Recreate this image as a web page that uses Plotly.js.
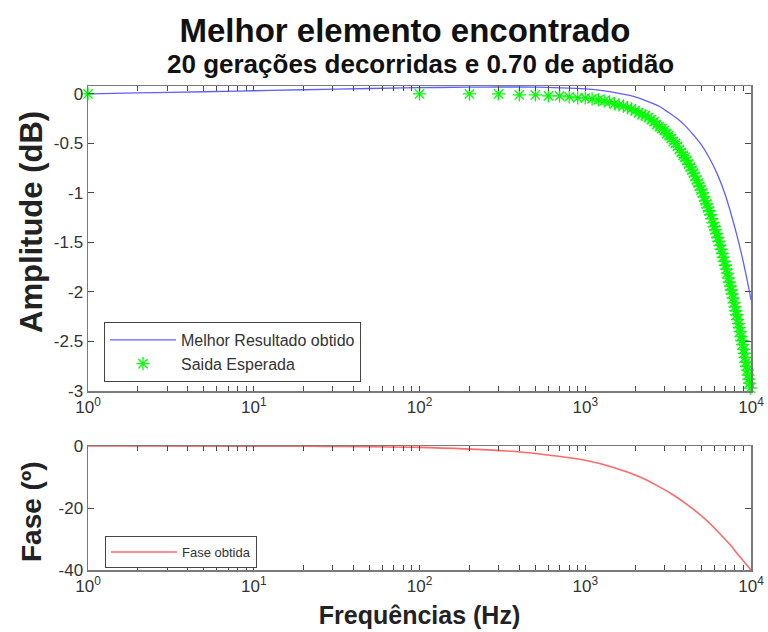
<!DOCTYPE html>
<html>
<head>
<meta charset="utf-8">
<script src="https://cdn.plot.ly/plotly-3.0.1.min.js"></script>
<style>html,body{margin:0;padding:0;background:#fff;}#chart{width:768px;height:632px;}</style>
</head>
<body>
<div id="chart"></div>
<script>
// Melhor Resultado obtido (blue line): frequency (Hz) and amplitude (dB)
const freqObtido = [1, 2, 5, 10, 20, 50, 100, 200, 300, 500, 700, 1000, 1300, 1600, 2000, 2500, 2825, 3200, 3600, 4000, 4500, 5000, 5600, 6300, 7000, 7600, 8200, 8800, 9400, 10000];
const ampObtido = [0.00, 0.01, 0.022, 0.032, 0.042, 0.055, 0.063, 0.068, 0.07, 0.068, 0.062, 0.05, 0.03, 0.005, -0.03, -0.09, -0.13, -0.19, -0.25, -0.32, -0.415, -0.51, -0.645, -0.82, -1.02, -1.22, -1.42, -1.63, -1.85, -2.08];

// Saida Esperada (green stars)
const freqEsperada = [1, 100, 200, 300, 400, 500, 600, 700, 800, 900, 1000,
  1100, 1200, 1300, 1400, 1500, 1600, 1700, 1800, 1900, 2000,
  2100, 2200, 2300, 2400, 2500, 2600, 2700, 2800, 2900, 3000,
  3100, 3200, 3300, 3400, 3500, 3600, 3700, 3800, 3900, 4000,
  4100, 4200, 4300, 4400, 4500, 4600, 4700, 4800, 4900, 5000,
  5100, 5200, 5300, 5400, 5500, 5600, 5700, 5800, 5900, 6000,
  6100, 6200, 6300, 6400, 6500, 6600, 6700, 6800, 6900, 7000,
  7100, 7200, 7300, 7400, 7500, 7600, 7700, 7800, 7900, 8000,
  8100, 8200, 8300, 8400, 8500, 8600, 8700, 8800, 8900, 9000,
  9100, 9200, 9300, 9400, 9500, 9600, 9700, 9800, 9900, 10000];
const ampEsperada = [0.00, 0.00, 0.00, 0.00, -0.01, -0.01, -0.02, -0.02, -0.03, -0.04, -0.04,
  -0.05, -0.06, -0.07, -0.08, -0.10, -0.11, -0.12, -0.14, -0.15, -0.17,
  -0.19, -0.21, -0.22, -0.24, -0.26, -0.28, -0.31, -0.33, -0.35, -0.37,
  -0.40, -0.42, -0.45, -0.48, -0.50, -0.53, -0.56, -0.59, -0.62, -0.64,
  -0.67, -0.71, -0.74, -0.77, -0.80, -0.83, -0.87, -0.90, -0.93, -0.97,
  -1.00, -1.04, -1.08, -1.11, -1.15, -1.18, -1.22, -1.26, -1.30, -1.34,
  -1.37, -1.41, -1.45, -1.49, -1.53, -1.57, -1.61, -1.65, -1.69, -1.73,
  -1.77, -1.81, -1.86, -1.90, -1.94, -1.98, -2.02, -2.06, -2.11, -2.15,
  -2.19, -2.23, -2.28, -2.32, -2.36, -2.40, -2.45, -2.49, -2.53, -2.58,
  -2.62, -2.66, -2.71, -2.75, -2.79, -2.84, -2.88, -2.92, -2.97, -3.01];

// Fase obtida (red line): frequency (Hz) and phase (degrees)
const freqFase = [1, 10, 30, 100, 200, 336, 500, 1000, 1500, 2140, 2700, 3400, 4200, 5400, 6400, 7470, 8500, 10000];
const fase = [0, -0.05, -0.15, -0.45, -1.0, -1.6, -2.4, -4.6, -7.0, -10.0, -12.7, -15.8, -19.2, -24.0, -28.0, -31.8, -35.5, -40];

// Tick positions and labels (decade labels; intermediate ticks unlabeled)
const xTickVals = [1, 2, 3, 4, 5, 6, 7, 8, 9,
  10, 20, 30, 40, 50, 60, 70, 80, 90,
  100, 200, 300, 400, 500, 600, 700, 800, 900,
  1000, 2000, 3000, 4000, 5000, 6000, 7000, 8000, 9000, 10000];
const xTickText = ['10<sup>0</sup>', '', '', '', '', '', '', '', '',
  '10<sup>1</sup>', '', '', '', '', '', '', '', '',
  '10<sup>2</sup>', '', '', '', '', '', '', '', '',
  '10<sup>3</sup>', '', '', '', '', '', '', '', '', '10<sup>4</sup>'];
const ampTickVals = [0, -0.5, -1, -1.5, -2, -2.5, -3];
const ampTickText = ['0', '-0.5', '-1', '-1.5', '-2', '-2.5', '-3'];
const faseTickVals = [0, -20, -40];
const faseTickText = ['0', '-20', '-40'];

const FONT = 'Liberation Sans, Arial, sans-serif';
const AX = '#7a7a7a';
const TICKC = '#4a4a4a';
const TICKFONT = {family: FONT, size: 17, color: '#333'};

function xAxis(anchor) {
  return {
    type: 'log', range: [0, 4], anchor: anchor,
    domain: [88/768, 751/768],
    tickmode: 'array', tickvals: xTickVals, ticktext: xTickText,
    ticks: 'inside', ticklen: 5, tickcolor: TICKC, tickwidth: 1,
    showline: true, linecolor: AX, linewidth: 1.5, mirror: 'allticks',
    showgrid: false, zeroline: false,
    tickfont: TICKFONT, automargin: false
  };
}

const traces = [
  {x: freqObtido, y: ampObtido, xaxis: 'x', yaxis: 'y', type: 'scatter', mode: 'lines',
   name: 'Melhor Resultado obtido', line: {color: '#6060ff', width: 1.3, shape: 'spline'}, legend: 'legend'},
  {x: freqEsperada, y: ampEsperada, xaxis: 'x', yaxis: 'y', type: 'scatter', mode: 'markers',
   name: 'Saida Esperada', legend: 'legend', cliponaxis: false,
   marker: {symbol: 'asterisk-open', size: 11, color: '#00ff00', line: {color: '#00ff00', width: 1.3}}},
  {x: freqFase, y: fase, xaxis: 'x2', yaxis: 'y2', type: 'scatter', mode: 'lines',
   name: 'Fase obtida', legend: 'legend2', line: {color: '#ff6a6a', width: 1.6, shape: 'spline'}}
];

const layout = {
  width: 768, height: 632,
  margin: {l: 0, r: 0, t: 0, b: 0},
  paper_bgcolor: '#fff', plot_bgcolor: '#fff',
  showlegend: true,
  title: {text: '<b>Melhor elemento encontrado</b>', x: 405/768, xanchor: 'center', y: 1 - 30/632, yanchor: 'middle',
          font: {family: FONT, size: 33, color: '#111'}},
  xaxis: xAxis('y'),
  xaxis2: Object.assign(xAxis('y2'), {title: {text: '<b>Frequências (Hz)</b>', font: {family: FONT, size: 25, color: '#222'}, standoff: 11}}),
  yaxis: {
    domain: [1 - 391/632, 1 - 86/632], range: [-3, 0.08], anchor: 'x',
    tickmode: 'array', tickvals: ampTickVals, ticktext: ampTickText,
    ticks: 'inside', ticklen: 6, tickcolor: TICKC, showline: true, linecolor: AX, linewidth: 1.5, mirror: 'allticks',
    showgrid: false, zeroline: false, tickfont: TICKFONT, automargin: false
  },
  yaxis2: {
    domain: [1 - 570/632, 1 - 446/632], range: [-40, 0], anchor: 'x2',
    tickmode: 'array', tickvals: faseTickVals, ticktext: faseTickText,
    ticks: 'inside', ticklen: 6, tickcolor: TICKC, showline: true, linecolor: AX, linewidth: 1.5, mirror: 'allticks',
    showgrid: false, zeroline: false, tickfont: TICKFONT, automargin: false
  },
  legend: {x: 104/768, xanchor: 'left', y: 1 - 322/632, yanchor: 'top',
           bgcolor: '#fff', bordercolor: '#444', borderwidth: 1,
           font: {family: FONT, size: 16, color: '#333'}, itemwidth: 66, tracegroupgap: 0},
  legend2: {x: 105/768, xanchor: 'left', y: 1 - 536/632, yanchor: 'top',
           bgcolor: '#fff', bordercolor: '#444', borderwidth: 1,
           font: {family: FONT, size: 13, color: '#333'}, itemwidth: 66},
  annotations: [
    {text: '<b>20 gerações decorridas e 0.70 de aptidão</b>', xref: 'paper', yref: 'paper',
     x: 420/768, y: 1 - 64/632, xanchor: 'center', yanchor: 'middle', showarrow: false,
     font: {family: FONT, size: 26, color: '#111'}},
    {text: '<b>Amplitude (dB)</b>', xref: 'paper', yref: 'paper', textangle: -90,
     x: 31/768, y: 1 - 222/632, xanchor: 'center', yanchor: 'middle', showarrow: false,
     font: {family: FONT, size: 31, color: '#222'}},
    {text: '<b>Fase (º)</b>', xref: 'paper', yref: 'paper', textangle: -90,
     x: 31/768, y: 1 - 512/632, xanchor: 'center', yanchor: 'middle', showarrow: false,
     font: {family: FONT, size: 28, color: '#222'}}
  ]
};

Plotly.newPlot('chart', traces, layout, {staticPlot: true, displayModeBar: false});
</script>
</body>
</html>
